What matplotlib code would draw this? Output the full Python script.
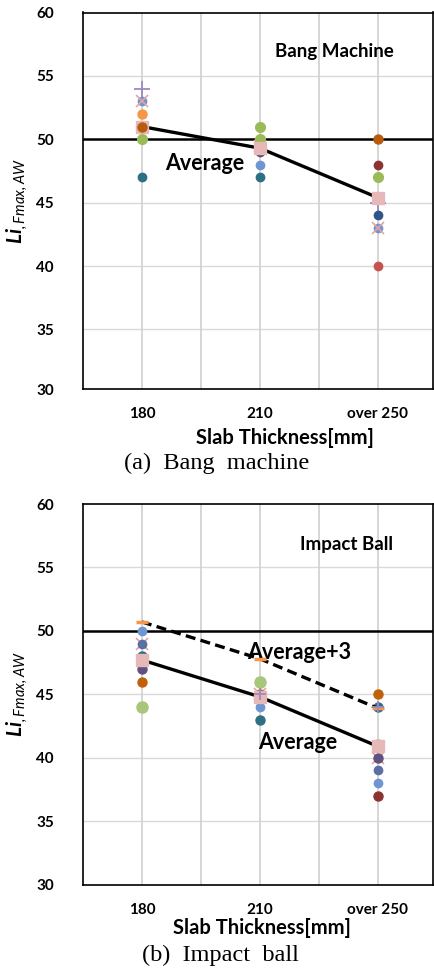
import numpy as np
import matplotlib
matplotlib.use("Agg")
import matplotlib.pyplot as plt

nan = np.nan
categories = ['180', '210', 'over 250']
xpos = [1, 2, 3]

# (a) Bang machine
bang_avg = [51.0, 49.3, 45.4]
bang_plus = [54, nan, 45]
bang_x = [53, 49.5, 43]
bang_blue = [53, 48, 43]
bang_orange = [52, nan, nan]
bang_brown = [51, nan, 50]
bang_green = [50, 51, 47]
bang_green2 = [nan, 50, nan]
bang_teal = [47, 47, nan]
bang_purple = [nan, 49, nan]
bang_cyan = [nan, 49, nan]
bang_darkred = [nan, nan, 48]
bang_navy = [nan, nan, 44]
bang_red = [nan, nan, 40]

# (b) Impact ball
impact_avg = [47.7, 44.8, 40.9]
impact_avg3 = [50.7, 47.8, 43.9]
impact_blue = [50, 44, 38]
impact_x = [49, 45, 40]
impact_navy = [49, nan, 39]
impact_teal = [48, 43, 44]
impact_purple = [47, nan, 40]
impact_brown = [46, 45, 45]
impact_green = [44, 46, 41]
impact_darkred = [nan, nan, 37]
impact_plus = [nan, 45, 44]

yticks = [35, 40, 45, 50, 55, 60]

plt.rcParams['font.family'] = ['Lato', 'DejaVu Sans']
plt.rcParams['mathtext.fontset'] = 'custom'
plt.rcParams['mathtext.bf'] = 'Lato:bold:italic'
plt.rcParams['mathtext.it'] = 'Lato:italic'
plt.rcParams['mathtext.rm'] = 'Lato:italic'

fig = plt.figure(figsize=(4.35, 9.71), dpi=100)
W, H = 435, 971

def make_ax(top_px, bot_px, ybot):
    ax = fig.add_axes([83 / W, 1 - bot_px / H, 350 / W, (bot_px - top_px) / H])
    ax.set_xlim(0.5, 3.47)
    ax.set_ylim(ybot, 60)
    for s in ax.spines.values():
        s.set_color('black')
        s.set_linewidth(1.2)
    ax.set_yticks([ybot] + yticks, ['30'] + [str(v) for v in yticks])
    ax.set_xticks(xpos, categories)
    for v in [35, 40, 45, 55]:
        ax.axhline(v, color='#d9d9d9', lw=1.0, zorder=0)
    for v in [1, 1.5, 2, 2.5, 3]:
        ax.axvline(v, color='#d0d0d0', lw=1.2, zorder=0)
    ax.axhline(50, color='black', lw=1.8, zorder=1)
    ax.tick_params(axis='both', length=0, labelsize=11)
    for lab in ax.get_xticklabels() + ax.get_yticklabels():
        lab.set_fontweight('bold')
    ax.tick_params(axis='y', pad=21)
    ax.tick_params(axis='x', pad=13)
    ax.set_ylabel(r'$\mathbf{Li}_{,Fmax,AW}$', fontsize=15)
    ax.yaxis.set_label_coords(-0.152, 0.5)
    return ax

def dots(ax, vals, color, ms=6.0, marker='o', mew=1.5, z=4):
    if marker in ('+', 'x', '_'):
        ax.plot(xpos, vals, ls='none', marker=marker, color=color, ms=ms, mew=mew, zorder=z)
    else:
        ax.plot(xpos, vals, ls='none', marker=marker, color=color, ms=ms, mec=color, zorder=z)

# ---------- panel (a)
ax1 = make_ax(12.5, 389, 30.3)
dots(ax1, bang_plus, '#9c88c4', ms=11, marker='+', mew=1.3)
dots(ax1, bang_blue, '#6f96d1', ms=6)
dots(ax1, bang_x, '#e8a2a0', ms=8, marker='x', mew=1.2)
dots(ax1, bang_orange, '#f79646', ms=6.5)
dots(ax1, bang_green, '#9bbb59', ms=7)
dots(ax1, bang_green2, '#9bbb59', ms=7)
dots(ax1, bang_teal, '#2e6f82', ms=6)
dots(ax1, bang_purple, '#5f4b7e', ms=6)
dots(ax1, bang_cyan, '#4bacc6', ms=7, marker='_', mew=2)
dots(ax1, bang_darkred, '#8c3232', ms=6)
dots(ax1, bang_navy, '#2f5589', ms=6)
dots(ax1, bang_red, '#c8504e', ms=6)
ax1.plot(xpos, bang_avg, color='black', lw=2.4, zorder=5, marker='s', ms=8,
         mfc='#e6b9b8', mec='#e6b9b8')
dots(ax1, bang_brown, '#b85b0c', ms=6.5, z=6)
ax1.text(1.2, 48.1, 'Average', fontsize=15.5, fontweight='bold', ha='left', va='center')
ax1.text(2.13, 56.9, 'Bang Machine', fontsize=13.5, fontweight='bold', ha='left', va='center')
ax1.set_xlabel('Slab Thickness[mm]', fontsize=14.5, fontweight='bold')
ax1.xaxis.set_label_coords(0.577, -0.104)
fig.text(217 / W, 1 - 463 / H, '(a)  Bang  machine', fontsize=17.5,
         family='Liberation Serif', ha='center', va='center')

# ---------- panel (b)
ax2 = make_ax(504, 884.5, 30)
dots(ax2, impact_blue, '#6f96d1', ms=6)
dots(ax2, impact_x, '#e8a2a0', ms=8, marker='x', mew=1.2)
dots(ax2, impact_navy, '#5a6fa6', ms=6)
dots(ax2, impact_teal, '#2e6f82', ms=6.5)
dots(ax2, impact_purple, '#62507f', ms=6.5)
dots(ax2, impact_brown, '#c0600a', ms=6.5)
dots(ax2, impact_green, '#a9c77a', ms=8)
dots(ax2, impact_darkred, '#8c3232', ms=6.5)
ax2.plot(xpos, impact_avg, color='black', lw=2.4, zorder=5, marker='s', ms=8,
         mfc='#e6b9b8', mec='#e6b9b8')
ax2.plot(xpos, impact_avg3, color='black', lw=2.4, ls=(0, (3, 1.6)), zorder=5,
         marker='_', ms=9, mew=2.5, mec='#f79646')
dots(ax2, impact_plus, '#9c88c4', ms=9, marker='+', mew=1.3, z=6)
ax2.text(1.89, 48.3, 'Average+3', fontsize=15.5, fontweight='bold', ha='left', va='center')
ax2.text(1.99, 41.2, 'Average', fontsize=15.5, fontweight='bold', ha='left', va='center')
ax2.text(2.34, 56.8, 'Impact Ball', fontsize=13.5, fontweight='bold', ha='left', va='center')
ax2.set_xlabel('Slab Thickness[mm]', fontsize=14.5, fontweight='bold')
ax2.xaxis.set_label_coords(0.511, -0.089)
fig.text(220 / W, 1 - 955 / H, '(b)  Impact  ball', fontsize=17.5,
         family='Liberation Serif', ha='center', va='center')

fig.savefig('out.png', dpi=100)
